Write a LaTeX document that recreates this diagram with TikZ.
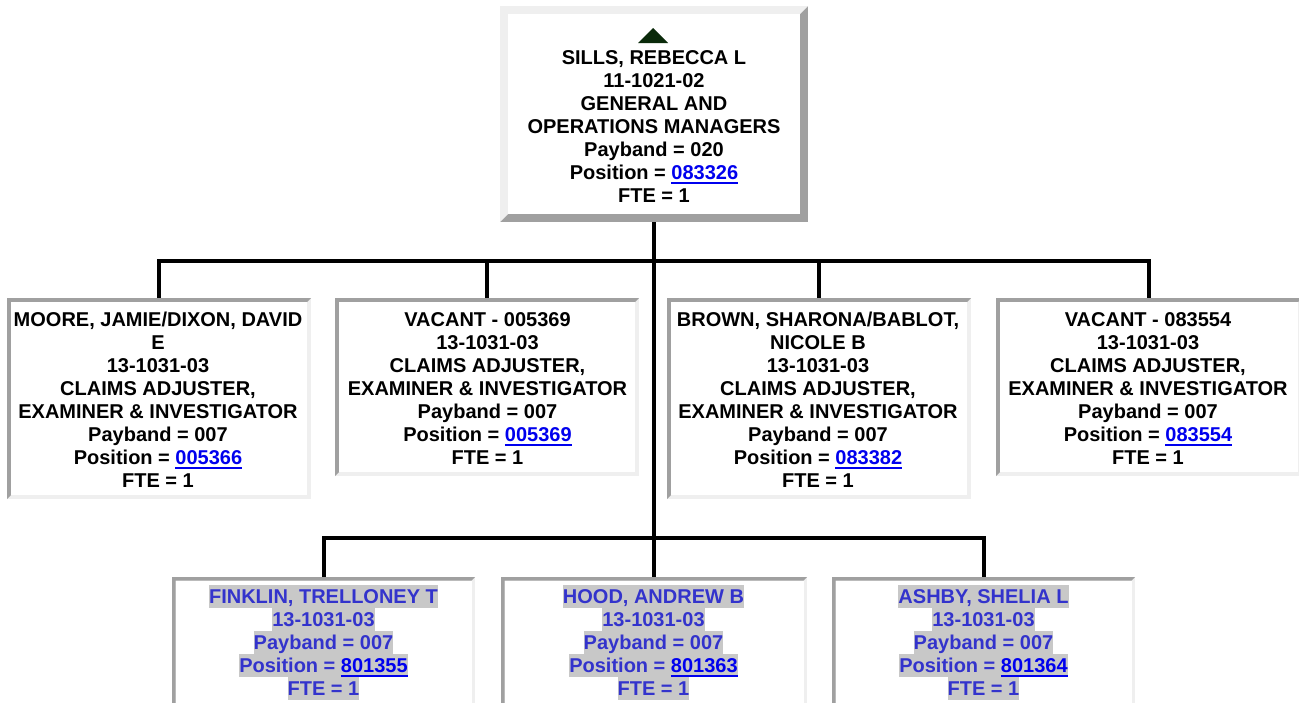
\documentclass[tikz,border=0pt]{standalone}
\usepackage{fontspec}
\setmainfont{Liberation Sans}
\definecolor{lightbd}{HTML}{EFEFEF}
\definecolor{darkbd}{HTML}{A0A0A0}
\definecolor{linkblue}{HTML}{0000EE}
\definecolor{vblue}{HTML}{3333CC}
\definecolor{hlgray}{HTML}{C8C8C8}
\definecolor{tricol}{HTML}{0A2A0A}
\newsavebox\lnkbox
\newcommand\lnk[1]{\sbox\lnkbox{\textcolor{linkblue}{#1}}{\color{linkblue}\rlap{\rule[-4.5pt]{\wd\lnkbox}{2pt}}}\usebox\lnkbox}
\newcommand\hl[1]{{\setlength{\fboxsep}{0pt}\colorbox{hlgray}{\rule[-4.4pt]{0pt}{22.5pt}#1}}}
\newcommand\fs{\rule{0pt}{18pt}}
\tikzset{
  boxnode/.style={rectangle, inner sep=0pt, outer sep=0pt},
  txt/.style={align=center, inner sep=0pt, outer sep=0pt, anchor=north, font=\bfseries\fontsize{20}{23}\selectfont},
  vtxt/.style={txt, text=vblue},
  conn/.style={line width=4pt, line join=miter, draw=black}
}
\newcommand\orgbox[8]{%
  \node[boxnode, minimum width=#4pt, minimum height=#5pt, anchor=north west] (#1) at (#2,#3) {};
  \fill[#7] (#1.north west) rectangle (#1.south east);
  \fill[#6] (#1.south west) -- (#1.north west) -- (#1.north east) -- ([shift={(-#8,#8)}]#1.north east) -- ([shift={(#8,#8)}]#1.north west) -- ([shift={(#8,-#8)}]#1.south west) -- cycle;
  \fill[white] ([shift={(#8,#8)}]#1.north west) rectangle ([shift={(-#8,-#8)}]#1.south east);
}
\begin{document}
\begin{tikzpicture}[x=1pt, y=-1pt]
\useasboundingbox (0,0) rectangle (1299,702);
\clip (0,0) rectangle (1299,702);
\fill[white] (0,0) rectangle (1299,702);
% boxes
\orgbox{top}{500}{6}{308}{216}{lightbd}{darkbd}{8}
\orgbox{m1}{7}{298}{304}{201}{darkbd}{lightbd}{4}
\orgbox{m2}{335}{298}{304}{178}{darkbd}{lightbd}{4}
\orgbox{m3}{667}{298}{304}{201}{darkbd}{lightbd}{4}
\orgbox{m4}{996}{298}{306}{178}{darkbd}{lightbd}{4}
\orgbox{b1}{172}{577}{303}{150}{darkbd}{lightbd}{3.5}
\orgbox{b2}{501}{577}{306}{150}{darkbd}{lightbd}{3.5}
\orgbox{b3}{832}{577}{303}{150}{darkbd}{lightbd}{3.5}
% connectors
\coordinate (bus1) at (654,261);
\coordinate (bus2) at (654,538);
\draw[conn] (top.south) -- (b2.north);
\draw[conn] (m1.north) |- (bus1) -| (m4.north);
\draw[conn] (m2.north) -- (m2.north |- bus1);
\draw[conn] (m3.north) -- (m3.north |- bus1);
\draw[conn] (b1.north) |- (bus2) -| (b3.north);
% top
\fill[tricol] (653,28) -- (668,43) -- (638,43) -- cycle;
\node[txt] (t0) at (654,46) {\fs SILLS, REBECCA L\\11-1021-02\\GENERAL AND\\OPERATIONS MANAGERS\\Payband = 020\\Position = \lnk{083326}\\FTE = 1};
% middle
\node[txt] (t1) at (158,308) {\fs MOORE, JAMIE/DIXON, DAVID\\E\\13-1031-03\\CLAIMS ADJUSTER,\\EXAMINER \& INVESTIGATOR\\Payband = 007\\Position = \lnk{005366}\\FTE = 1};
\node[txt] (t2) at (487.5,308) {\fs VACANT - 005369\\13-1031-03\\CLAIMS ADJUSTER,\\EXAMINER \& INVESTIGATOR\\Payband = 007\\Position = \lnk{005369}\\FTE = 1};
\node[txt] (t3) at (818,308) {\fs BROWN, SHARONA/BABLOT,\\NICOLE B\\13-1031-03\\CLAIMS ADJUSTER,\\EXAMINER \& INVESTIGATOR\\Payband = 007\\Position = \lnk{083382}\\FTE = 1};
\node[txt] (t4) at (1148,308) {\fs VACANT - 083554\\13-1031-03\\CLAIMS ADJUSTER,\\EXAMINER \& INVESTIGATOR\\Payband = 007\\Position = \lnk{083554}\\FTE = 1};
% bottom
\node[vtxt] (t5) at (323.5,585) {\hl{FINKLIN, TRELLONEY T}\\\hl{13-1031-03}\\\hl{Payband = 007}\\\hl{Position = \lnk{801355}}\\\hl{FTE = 1}};
\node[vtxt] (t6) at (653.5,585) {\hl{HOOD, ANDREW B}\\\hl{13-1031-03}\\\hl{Payband = 007}\\\hl{Position = \lnk{801363}}\\\hl{FTE = 1}};
\node[vtxt] (t7) at (983.5,585) {\hl{ASHBY, SHELIA L}\\\hl{13-1031-03}\\\hl{Payband = 007}\\\hl{Position = \lnk{801364}}\\\hl{FTE = 1}};
\end{tikzpicture}
\end{document}
